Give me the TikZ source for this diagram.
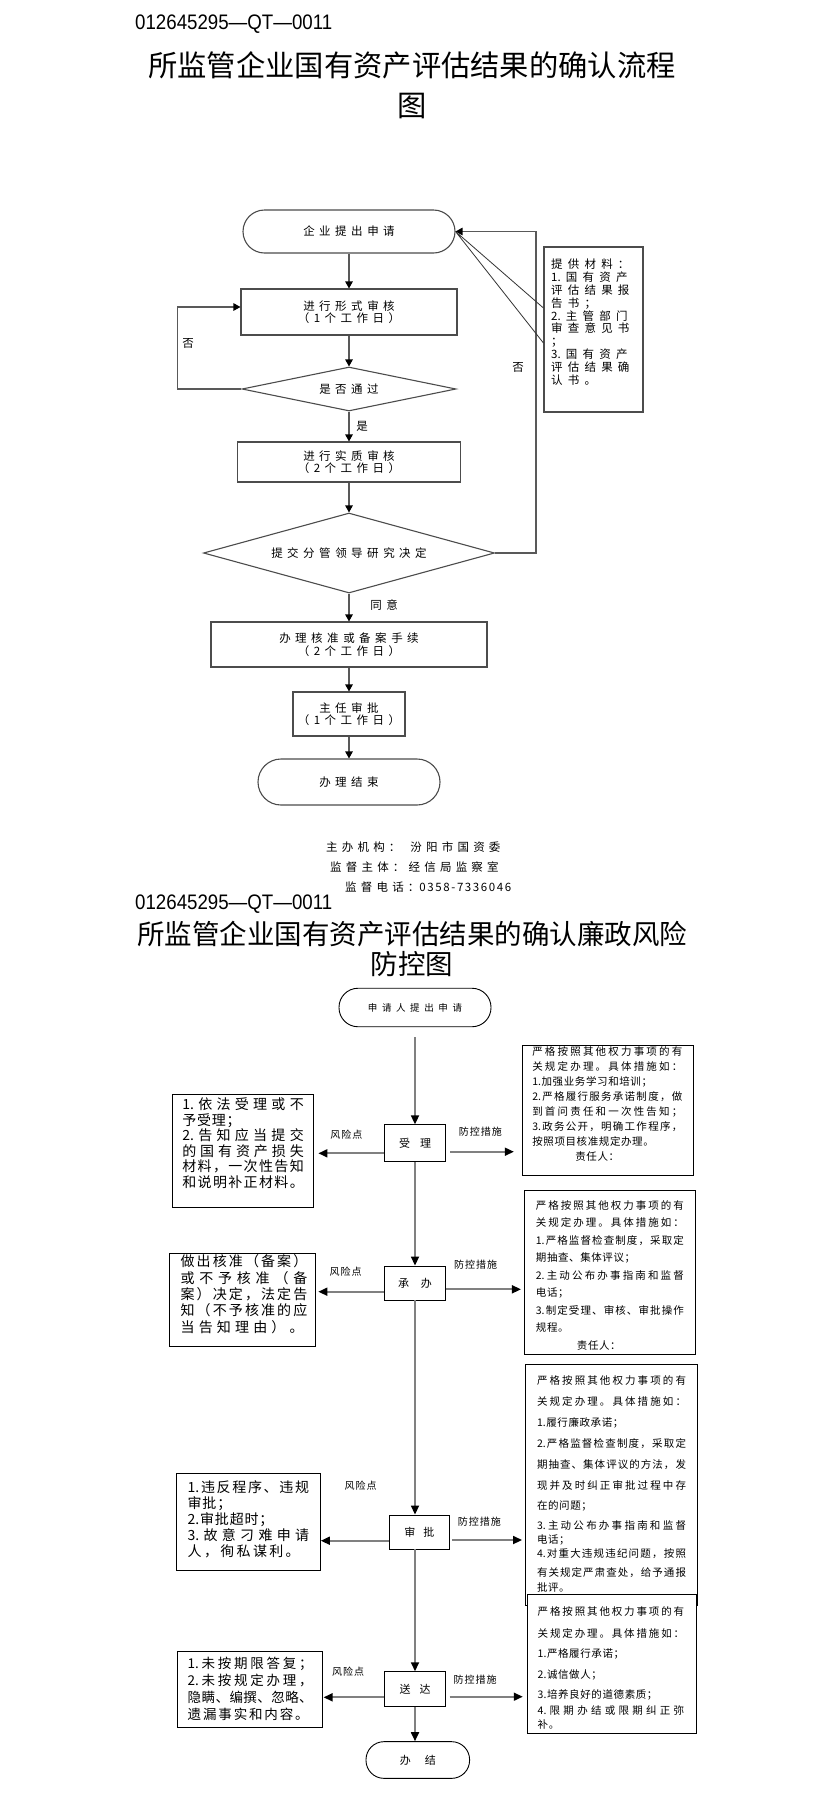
\documentclass[tikz,border=0pt]{standalone}
\usepackage{fontspec}
\setmainfont{Noto Sans CJK SC}
\newfontfamily\numfont[FakeStretch=0.89]{Liberation Sans}
\usetikzlibrary{arrows.meta,shapes.geometric}
\makeatletter
\newdimen\chgap
\newcommand\setgap[1]{\global\chgap #1\relax}
\def\spreadchars#1{\spr@a#1\@nil}
\def\spr@a#1#2\@nil{#1\if\relax\detokenize{#2}\relax\else\spr@gap\spr@a#2\@nil\fi}
\def\spr@gap{\kern\chgap}
\newcommand\gapt[1]{\spreadchars{#1}}
\newcommand\just[2]{\makebox[#1][s]{\def\spr@gap{\hskip0pt plus 1fil}\spreadchars{#2}}}
\makeatother
\tikzset{
  hdr/.style={inner sep=0pt, anchor=west, font=\numfont\fontsize{21}{21}\selectfont},
  ttl/.style={inner sep=0pt, align=center},
  ln1/.style={draw=black!65, line width=1.2pt},
  arr1/.style={ln1, -{Triangle[length=7pt,width=7.5pt,color=black]}},
  sh1/.style={draw=black!70, line width=1.1pt, inner sep=0pt, align=center, fill=white,
    font={\fontsize{11.5}{12.5}\selectfont\setgap{4.5pt}}},
  box1/.style={sh1, rectangle},
  term1/.style={sh1, rectangle, rounded corners=21.5pt},
  dia1/.style={sh1, diamond},
  lab1/.style={inner sep=0pt, font={\fontsize{11.5}{12.5}\selectfont\setgap{4.5pt}}},
  mtext/.style={inner sep=0pt, anchor=north west, align=left, font={\fontsize{11.5}{12.9}\selectfont\setgap{5.2pt}}},
  callout/.style={draw=black!80, line width=0.8pt},
  foot/.style={inner sep=0pt, anchor=west, font={\fontsize{11.5}{12}\selectfont\setgap{4.2pt}}},
  ln2/.style={draw=black!50, line width=1.7pt},
  arr2/.style={ln2, -{Triangle[length=9pt,width=8pt,color=black]}},
  box2/.style={draw=black, line width=0.9pt, inner sep=0pt, fill=white, rectangle,
    font={\fontsize{11}{12}\selectfont}},
  term2/.style={box2, rounded corners=19pt},
  lab2/.style={inner sep=0pt, font={\fontsize{10}{11}\selectfont\setgap{1pt}}},
  ltext/.style={inner sep=0pt, anchor=north west, align=left},
  rtext/.style={inner sep=0pt, anchor=north west, align=left}
}
\begin{document}
\begin{tikzpicture}[x=1pt,y=-1pt]
\path[use as bounding box, fill=white] (0,0) rectangle (823,1794);

% ---------- page 1 ----------
\node[hdr] (h1) at (135,24) {012645295—QT—0011};
\node[ttl, font={\fontsize{29.3}{40}\selectfont}] (t1) at (412,85.5) {所监管企业国有资产评估结果的确认流程\\图};

\node[term1, minimum width=212pt, minimum height=43pt] (s1) at (349,231.5) {\gapt{企业提出申请}};
\node[box1, minimum width=216pt, minimum height=46pt] (b1) at (349,312) {\gapt{进行形式审核}\\\gapt{（1个工作日）}};
\node[dia1, minimum width=214pt, minimum height=44pt, aspect=4.8] (d1) at (349,389) {\gapt{是否通过}};
\node[box1, minimum width=223pt, minimum height=40pt] (b2) at (349,462) {\gapt{进行实质审核}\\\gapt{（2个工作日）}};
\node[dia1, minimum width=291pt, minimum height=80pt, aspect=3.6] (d2) at (349,553) {\gapt{提交分管领导研究决定}};
\node[box1, minimum width=276pt, minimum height=45pt] (b3) at (349,644.5) {\gapt{办理核准或备案手续}\\\gapt{（2个工作日）}};
\node[box1, minimum width=112pt, minimum height=44pt] (b4) at (349,714) {\gapt{主任审批}\\\gapt{（1个工作日）}};
\node[term1, minimum width=182pt, minimum height=46pt, rounded corners=23pt] (s2) at (349,782) {\gapt{办理结束}};

\node[box1, minimum width=99pt, minimum height=165pt] (m) at (593.5,329.5) {};
\node[mtext] (mt) at (551,258.6) {\gapt{提供材料：}\\\gapt{{1.}国有资产}\\\gapt{评估结果报}\\\gapt{告书；}\\\gapt{{2.}主管部门}\\\gapt{审查意见书}\\\gapt{；}\\\gapt{{3.}国有资产}\\\gapt{评估结果确}\\\gapt{认书。}};

\draw[arr1] (s1) -- (b1);
\draw[arr1] (b1) -- (d1);
\draw[arr1] (d1) -- (b2);
\draw[arr1] (b2) -- (d2);
\draw[arr1] (d2) -- (b3);
\draw[arr1] (b3) -- (b4);
\draw[arr1] (b4) -- (s2);
\draw[arr1] (d1.west) -- ++(-64,0) |- ([yshift=5pt]b1.west);
\draw[arr1] (d2.east) -- ++(41,0) |- (s1.east);
\draw[callout] ([yshift=21.5pt]m.west) -- (s1.east) -- ([yshift=-13.5pt]m.west);

\node[lab1] (no1) at (188,343) {否};
\node[lab1] (no2) at (518,367) {否};
\node[lab1] (yes1) at (362,426) {是};
\node[lab1] (ok1) at (384,605) {\gapt{同意}};

\node[foot] (f1) at (326,847) {\gapt{主办机构：}\hspace{10pt}\gapt{汾阳市国资委}};
\node[foot] (f2) at (330,867) {\gapt{监督主体：经信局监察室}};
\node[foot] (f3) at (345,887) {\gapt{监督电话：}\setgap{1.6pt}\gapt{0358-7336046}};

% ---------- page 2 ----------
\node[hdr] (h2) at (135,904.5) {012645295—QT—0011};
\node[ttl, font={\fontsize{27.5}{30}\selectfont}] (t2) at (412,948.5) {所监管企业国有资产评估结果的确认廉政风险\\防控图};

\node[term2, minimum width=152pt, minimum height=38.5pt, font={\fontsize{9.5}{10}\selectfont\setgap{4.6pt}}] (sa) at (415,1007.5) {\gapt{申请人提出申请}};
\node[box2, minimum width=61pt, minimum height=37pt] (n1) at (415,1143.3) {受\hspace{10pt}理};
\node[box2, minimum width=61pt, minimum height=34pt] (n2) at (415,1283) {承\hspace{12pt}办};
\node[box2, minimum width=60pt, minimum height=34pt] (n3) at (419.3,1532) {审\hspace{8pt}批};
\node[box2, minimum width=61pt, minimum height=35pt] (n4) at (415,1689.2) {送\hspace{9pt}达};
\node[term2, minimum width=103.6pt, minimum height=36.7pt, rounded corners=18pt] (ne) at (417.8,1760) {办\hspace{14pt}结};

% left risk boxes
\node[box2, minimum width=141.5pt, minimum height=113.3pt] (L1) at (242.9,1150.7) {};
\node[box2, minimum width=145.4pt, minimum height=92.7pt] (L2) at (242.3,1299.7) {};
\node[box2, minimum width=143.6pt, minimum height=96.7pt] (L3) at (248.6,1521.7) {};
\node[box2, minimum width=144.3pt, minimum height=75.7pt] (L4) at (250,1689.5) {};

\node[ltext, font={\fontsize{14}{15.5}\selectfont\setgap{0.8pt}}] (L1t) at (182.1,1097.7) {\just{121.5pt}{{1.}依法受理或不}\\\gapt{予受理；}\\\just{121.5pt}{{2.}告知应当提交}\\\just{121.5pt}{的国有资产损失}\\\just{121.5pt}{材料，一次性告知}\\\just{121.5pt}{和说明补正材料。}};
\node[ltext, font={\fontsize{14}{16.4}\selectfont\setgap{0.8pt}}] (L2t) at (180.4,1254.4) {\just{126.7pt}{做出核准（备案）}\\\just{126.7pt}{或不予核准（备}\\\just{126.7pt}{案）决定，法定告}\\\just{126.7pt}{知（不予核准的应}\\\just{123pt}{当告知理由）。}};
\node[ltext, font={\fontsize{14}{16}\selectfont\setgap{0.8pt}}] (L3t) at (187.5,1480.1) {\just{121.4pt}{{1.}违反程序、违规}\\\gapt{审批；}\\\gapt{{2.}审批超时；}\\\just{121.4pt}{{3.}故意刁难申请}\\\just{112pt}{人，徇私谋利。}};
\node[ltext, font={\fontsize{13.5}{16.9}\selectfont\setgap{0.8pt}}] (L4t) at (187.5,1657) {\just{125pt}{{1.}未按期限答复；}\\\just{125pt}{{2.}未按规定办理，}\\\just{125pt}{隐瞒、编撰、忽略、}\\\just{121pt}{遗漏事实和内容。}};

% right measure boxes
\node[box2, minimum width=171pt, minimum height=129.3pt] (R1) at (608,1110.3) {};
\node[box2, minimum width=171.4pt, minimum height=164pt] (R2) at (610,1272) {};
\node[box2, minimum width=172pt, minimum height=241pt] (R3) at (611,1484.5) {};
\node[rtext, font={\fontsize{10.5}{15}\selectfont\setgap{0.6pt}}] (R1t) at (532.1,1046.8) {\just{150pt}{严格按照其他权力事项的有}\\\just{150pt}{关规定办理。具体措施如：}\\\gapt{{1.}加强业务学习和培训；}\\\just{150pt}{{2.}严格履行服务承诺制度，做}\\\just{150pt}{到首问责任和一次性告知；}\\\just{150pt}{{3.}政务公开，明确工作程序，}\\\gapt{按照项目核准规定办理。}\\\hspace*{43pt}\gapt{责任人：}};
\node[rtext, font={\fontsize{10.5}{17.5}\selectfont\setgap{0.6pt}}] (R2t) at (535.7,1200.1) {\just{148pt}{严格按照其他权力事项的有}\\\just{148pt}{关规定办理。具体措施如：}\\\just{148pt}{{1.}严格监督检查制度，采取定}\\\gapt{期抽查、集体评议；}\\\just{148pt}{{2.}主动公布办事指南和监督}\\\gapt{电话；}\\\just{148pt}{{3.}制定受理、审核、审批操作}\\\gapt{规程。}\\\hspace*{41pt}\gapt{责任人：}};
\node[rtext, font={\fontsize{10.5}{14.2}\selectfont\setgap{0.6pt}}] (R3t) at (536.8,1375.8) {\just{149pt}{严格按照其他权力事项的有}\\[6.8pt]\just{149pt}{关规定办理。具体措施如：}\\[6.8pt]\gapt{{1.}履行廉政承诺；}\\[6.4pt]\just{149pt}{{2.}严格监督检查制度，采取定}\\[6.8pt]\just{149pt}{期抽查、集体评议的方法，发}\\[6.5pt]\just{149pt}{现并及时纠正审批过程中存}\\[5.8pt]\gapt{在的问题；}\\[5.8pt]\just{149pt}{{3.}主动公布办事指南和监督}\\\gapt{电话；}\\\just{149pt}{{4.}对重大违规违纪问题，按照}\\[5.2pt]\just{149pt}{有关规定严肃查处，给予通报}\\\gapt{批评。}};
\node[box2, minimum width=169pt, minimum height=139pt] (R4) at (612,1663.8) {};
\node[rtext, font={\fontsize{10.5}{14}\selectfont\setgap{0.6pt}}] (R4t) at (537.5,1606.8) {\just{146.5pt}{严格按照其他权力事项的有}\\[7.6pt]\just{146.5pt}{关规定办理。具体措施如：}\\[6pt]\gapt{{1.}严格履行承诺；}\\[6.7pt]\gapt{{2.}诚信做人；}\\[6pt]\gapt{{3.}培养良好的道德素质；}\\[2pt]\just{146.5pt}{{4.}限期办结或限期纠正弥}\\\gapt{补。}};

% vertical flow
\draw[arr2, shorten <=10pt] (sa) -- (n1);
\draw[arr2] (n1) -- (n2);
\draw[arr2] (n2.south) -- (n2.south |- n3.north);
\draw[arr2] (n2.south |- n3.south) -- (n4.north);
\draw[arr2] (n4.south) -- (n4.south |- ne.north);

% risk arrows
\draw[arr2, shorten >=4.3pt] ([yshift=-10pt]n1.west) -- ([yshift=-10pt]n1.west -| L1.east);
\draw[arr2, shorten >=2.9pt] ([yshift=-8.7pt]n2.west) -- ([yshift=-8.7pt]n2.west -| L2.east);
\draw[arr2] ([yshift=-8.7pt]n3.west) -- ([yshift=-8.7pt]n3.west -| L3.east);
\draw[arr2, shorten >=1pt] ([yshift=-8.1pt]n4.west) -- ([yshift=-8.1pt]n4.west -| L4.east);
% measure arrows
\draw[arr2, shorten <=4.3pt, shorten >=8.2pt] ([yshift=-8.4pt]n1.east) -- ([yshift=-8.4pt]n1.east -| R1.west);
\draw[arr2, shorten >=2.9pt] ([yshift=-6.3pt]n2.east) -- ([yshift=-6.3pt]n2.east -| R2.west);
\draw[arr2, shorten <=2.5pt, shorten >=2.5pt] ([yshift=-8pt]n3.east) -- ([yshift=-8pt]n3.east -| R3.west);
\draw[arr2, shorten <=3.6pt, shorten >=4.3pt] ([yshift=-7.5pt]n4.east) -- ([yshift=-7.5pt]n4.east -| R4.west);

\node[lab2] (rk1) at (346.4,1135) {\gapt{风险点}};
\node[lab2] (rk2) at (345.7,1271.7) {\gapt{风险点}};
\node[lab2] (rk3) at (360.7,1486) {\gapt{风险点}};
\node[lab2] (rk4) at (348.2,1671.7) {\gapt{风险点}};
\node[lab2] (pc1) at (480.4,1131.7) {\gapt{防控措施}};
\node[lab2] (pc2) at (475.7,1265) {\gapt{防控措施}};
\node[lab2] (pc3) at (479.3,1521.7) {\gapt{防控措施}};
\node[lab2] (pc4) at (475,1679.3) {\gapt{防控措施}};
\end{tikzpicture}
\end{document}
